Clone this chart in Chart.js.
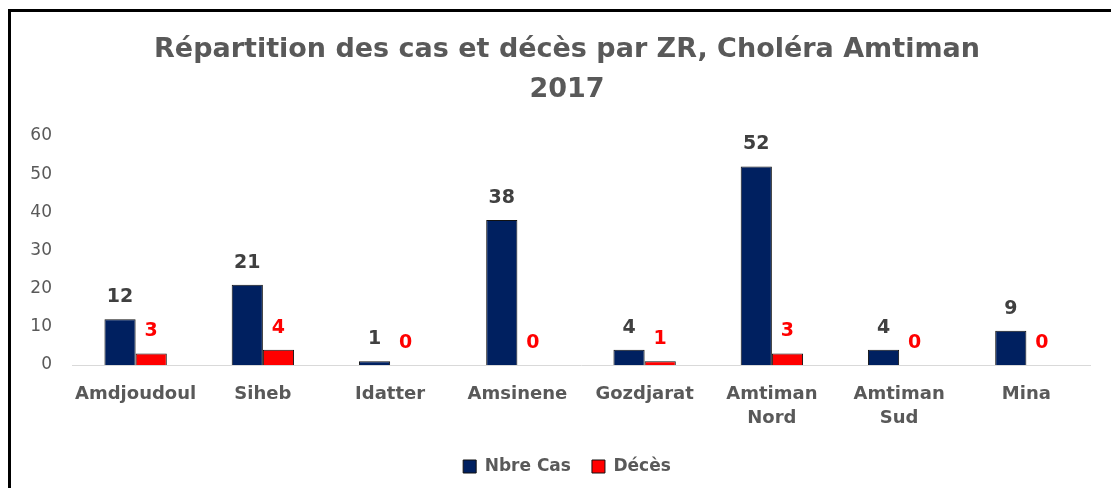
<!DOCTYPE html>
<html>
<head>
<meta charset="utf-8">
<script src="https://cdn.jsdelivr.net/npm/chart.js@4.4.1/dist/chart.umd.min.js"></script>
<style>
  html, body { margin: 0; padding: 0; background: #ffffff; width: 1111px; height: 488px; overflow: hidden; position: relative; }
  #c { position: absolute; left: 0; top: 0; }
  .bl { position: absolute; left: 8px; top: 9px; width: 3px; height: 479px; background: #000; }
  .bt { position: absolute; left: 8px; top: 9px; width: 1103px; height: 3px; background: #000; }
</style>
</head>
<body>
<canvas id="c" width="1134" height="488"></canvas>
<div class="bl"></div>
<div class="bt"></div>
<script>
const categories = ['Amdjoudoul', 'Siheb', 'Idatter', 'Amsinene', 'Gozdjarat', ['Amtiman', 'Nord'], ['Amtiman', 'Sud'], 'Mina'];
const nbreCas = [12, 21, 1, 38, 4, 52, 4, 9];
const deces = [3, 4, 0, 0, 1, 3, 0, 0];
const yTicks = [0, 10, 20, 30, 40, 50, 60];
const titleLines = ['Répartition des cas et décès par ZR, Choléra Amtiman', '2017'];

const FONT = '"DejaVu Sans", Verdana, sans-serif';

// let the y tick labels extend left of the (narrow) y-axis box without clipping
if (Chart.LinearScale && Chart.LinearScale.prototype) {
  Chart.LinearScale.prototype._computeLabelArea = function () { return undefined; };
}

const valueLabels = {
  id: 'valueLabels',
  afterDatasetsDraw(chart) {
    const ctx = chart.ctx;
    chart.data.datasets.forEach((ds, di) => {
      const meta = chart.getDatasetMeta(di);
      meta.data.forEach((bar, i) => {
        ctx.save();
        ctx.font = 'bold 19px ' + FONT;
        ctx.fillStyle = ds.labelColor;
        ctx.textAlign = 'center';
        ctx.textBaseline = 'middle';
        ctx.fillText(String(ds.data[i]), bar.x, bar.y - 22);
        ctx.restore();
      });
    });
  }
};

new Chart(document.getElementById('c'), {
  type: 'bar',
  data: {
    labels: categories,
    datasets: [
      { label: 'Nbre Cas', data: nbreCas, backgroundColor: '#002060', borderColor: '#111111', borderWidth: 1, labelColor: '#404040',
        categoryPercentage: 0.49, barPercentage: 1.0 },
      { label: 'Décès', data: deces, backgroundColor: '#ff0000', borderColor: '#111111', borderWidth: 1, labelColor: '#ff0000',
        categoryPercentage: 0.49, barPercentage: 1.0 }
    ]
  },
  options: {
    responsive: false,
    animation: false,
    layout: { padding: { left: 44, right: 44, top: 30, bottom: 3 } },
    plugins: {
      tooltip: { enabled: false },
      title: {
        display: true,
        text: titleLines,
        color: '#595959',
        font: { family: FONT, size: 27, weight: 'bold', lineHeight: 40 / 27 },
        padding: { top: 0, bottom: 26 }
      },
      legend: {
        position: 'bottom',
        labels: {
          color: '#595959',
          font: { family: FONT, size: 17, weight: 'bold' },
          boxWidth: 13, boxHeight: 13, padding: 21,
          generateLabels(chart) {
            return chart.data.datasets.map((ds, i) => ({
              text: ds.label, fillStyle: ds.backgroundColor, strokeStyle: '#111111', lineWidth: 1,
              fontColor: '#595959', datasetIndex: i, hidden: false
            }));
          }
        }
      }
    },
    scales: {
      x: {
        grid: { display: false, drawTicks: false },
        border: { display: true, color: '#d9d9d9', width: 1 },
        ticks: { color: '#595959', font: { family: FONT, size: 18, weight: 'bold', lineHeight: 24 / 18 }, padding: 17, maxRotation: 0, autoSkip: false },
        afterFit(scale) { scale.height = 72; }
      },
      y: {
        min: 0, max: 60,
        grid: { display: false, drawTicks: false },
        border: { display: false },
        afterBuildTicks(scale) { scale.ticks = yTicks.map(v => ({ value: v })); },
        ticks: { color: '#595959', font: { family: FONT, size: 17 }, padding: 20 },
        afterFit(scale) { scale.width = 28; }
      }
    }
  },
  plugins: [valueLabels]
});
</script>
</body>
</html>
